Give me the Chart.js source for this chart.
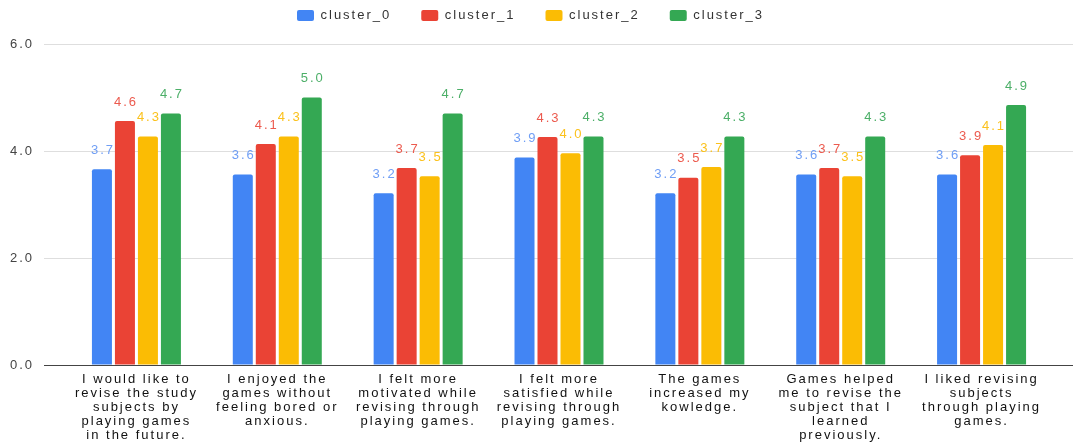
<!DOCTYPE html>
<html>
<head>
<meta charset="utf-8">
<script src="https://cdn.jsdelivr.net/npm/chart.js@4/dist/chart.umd.min.js"></script>
<style>
  body { margin: 0; background: #fff; }
  .GraficoClusters { width: 1073px; height: 443px; }
</style>
</head>
<body>
<div class="GraficoClusters"><canvas id="GraficoClusters"></canvas></div>
<script>
// survey statements (x axis), already wrapped like the original
var perguntas = [
    ['I would like to', 'revise the study', 'subjects by', 'playing games', 'in the future.'],
    ['I enjoyed the', 'games without', 'feeling bored or', 'anxious.'],
    ['I felt more', 'motivated while', 'revising through', 'playing games.'],
    ['I felt more', 'satisfied while', 'revising through', 'playing games.'],
    ['The games', 'increased my', 'kowledge.'],
    ['Games helped', 'me to revise the', 'subject that I', 'learned', 'previously.'],
    ['I liked revising', 'subjects', 'through playing', 'games.']
];

var nomesClusters = ['cluster_0', 'cluster_1', 'cluster_2', 'cluster_3'];

var cluster0 = [3.66, 3.56, 3.21, 3.88, 3.21, 3.56, 3.56];
var cluster1 = [4.56, 4.13, 3.68, 4.26, 3.50, 3.68, 3.92];
var cluster2 = [4.27, 4.27, 3.53, 3.96, 3.70, 3.53, 4.11];
var cluster3 = [4.70, 5.00, 4.70, 4.27, 4.27, 4.27, 4.86];

var ticksY = [0, 2, 4, 6];

var coresBarras = ['#4285F4', '#EA4335', '#FBBC04', '#34A853'];
var coresRotulos = ['#6f9ef5', '#ec5a4e', '#fbc11c', '#4caf68'];

var valores = [cluster0, cluster1, cluster2, cluster3];

// the original text is spaced out, canvas loses this on every resize
var espacamento = {
    id: 'espacamento',
    beforeLayout: function (chart) { chart.ctx.letterSpacing = '2px'; },
    beforeDraw: function (chart) { chart.ctx.letterSpacing = '2px'; }
};

// legend: fixed height and pulled up, padding is only there for the gap between items
var ajusteLegenda = {
    id: 'ajusteLegenda',
    beforeInit: function (chart) {
        var fitOriginal = chart.legend.fit;
        chart.legend.fit = function () {
            fitOriginal.call(this);
            this.height = 44;
        };
    },
    afterLayout: function (chart) {
        chart.legend.top = -21;
        chart.legend.left = -12;
    }
};

// value labels above each bar
var rotulosValores = {
    id: 'rotulosValores',
    afterDatasetsDraw: function (chart) {
        var ctx = chart.ctx;
        ctx.save();
        ctx.letterSpacing = '2px';
        ctx.font = '13px "Liberation Sans", Arial, sans-serif';
        ctx.textAlign = 'center';
        ctx.textBaseline = 'middle';
        chart.data.datasets.forEach(function (ds, i) {
            var meta = chart.getDatasetMeta(i);
            ctx.fillStyle = coresRotulos[i];
            meta.data.forEach(function (barra, j) {
                ctx.fillText(ds.data[j].toFixed(1), barra.x + 1, barra.y - 19);
            });
        });
        ctx.restore();
    }
};

function corGrade(c) {
    return c.tick && c.tick.value === 0 ? '#444' : '#dedede';
}

var ctx = document.getElementById('GraficoClusters').getContext('2d');

var grafico = new Chart(ctx, {
    type: 'bar',
    data: {
        labels: perguntas,
        datasets: valores.map(function (serie, i) {
            return {
                label: nomesClusters[i],
                data: serie,
                backgroundColor: coresBarras[i],
                borderWidth: 0,
                borderRadius: 2,
                categoryPercentage: 0.653,
                barPercentage: 0.87
            };
        })
    },
    options: {
        responsive: true,
        maintainAspectRatio: false,
        animation: false,
        layout: { padding: 0 },
        plugins: {
            legend: {
                position: 'top',
                labels: {
                    boxWidth: 17,
                    boxHeight: 11,
                    useBorderRadius: true,
                    borderRadius: 2,
                    padding: 30,
                    color: '#333',
                    font: { family: '"Liberation Sans", Arial, sans-serif', size: 13 }
                }
            },
            tooltip: { enabled: false }
        },
        scales: {
            x: {
                grid: { display: false },
                border: { display: false },
                ticks: {
                    autoSkip: false,
                    maxRotation: 0,
                    minRotation: 0,
                    padding: -1,
                    color: '#111',
                    font: { family: '"Liberation Sans", Arial, sans-serif', size: 13, lineHeight: 14 / 13 }
                },
                afterFit: function (scale) { scale.height = 78; }
            },
            y: {
                min: 0,
                max: 6,
                border: { display: false },
                grid: { color: corGrade, tickColor: corGrade, tickLength: 22 },
                ticks: {
                    padding: 10,
                    color: '#444',
                    font: { family: '"Liberation Sans", Arial, sans-serif', size: 13 },
                    callback: function (v) { return v.toFixed(1); }
                },
                afterBuildTicks: function (scale) {
                    scale.ticks = ticksY.map(function (v) { return { value: v }; });
                },
                afterFit: function (scale) { scale.width = 66; }
            },
            y2: {
                position: 'right',
                min: 0,
                max: 6,
                border: { display: false },
                grid: { drawOnChartArea: false, color: corGrade, tickColor: corGrade, tickLength: 21 },
                ticks: { display: false },
                afterBuildTicks: function (scale) {
                    scale.ticks = ticksY.map(function (v) { return { value: v }; });
                },
                afterFit: function (scale) { scale.width = 21; }
            }
        }
    },
    plugins: [espacamento, ajusteLegenda, rotulosValores]
});
</script>
</body>
</html>
